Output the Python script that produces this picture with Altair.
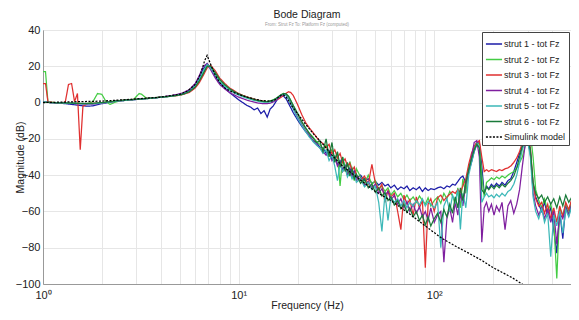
import altair as alt
import pandas as pd

FREQ = [
    1.0, 1.03, 1.06, 1.1, 1.15, 1.2, 1.25, 1.3, 1.35, 1.4,
    1.45, 1.5, 1.55, 1.6, 1.7, 1.8, 1.9, 2.0, 2.1, 2.2,
    2.35, 2.5, 2.7, 2.9, 3.1, 3.2, 3.4, 3.7, 4.0, 4.4,
    4.8, 5.2, 5.6, 6.0, 6.3, 6.6, 6.9, 7.2, 7.6, 8.0,
    8.5, 9.0, 9.5, 10.0, 10.5, 11.0, 11.5, 12.0, 12.5, 13.0,
    13.5, 14.0, 14.5, 15.0, 15.5, 16.0, 16.5, 17.0, 17.5, 18.0,
    18.5, 19.0, 20.0, 21.0, 22.0, 23.0, 24.0, 25.0, 26.0, 27.0,
    28.0, 29.0, 30.0, 31.0, 32.0, 33.0, 34.0, 35.0, 36.0, 37.0,
    38.0, 39.0, 40.0, 42.0, 44.0, 46.0, 48.0, 50.0, 52.0, 54.0,
    56.0, 58.0, 60.0, 62.5, 65.0, 67.5, 70.0, 72.5, 75.0, 78.0,
    81.0, 84.0, 87.0, 90.0, 93.0, 96.0, 100.0, 104.0, 108.0, 112.0,
    116.0, 120.0, 124.0, 128.0, 132.0, 136.0, 140.0, 145.0, 150.0, 155.0,
    160.0, 165.0, 170.0, 175.0, 180.0, 185.0, 190.0, 196.0, 202.0, 208.0,
    215.0, 222.0, 230.0, 238.0, 246.0, 255.0, 264.0, 273.0, 282.0, 291.0,
    300.0, 310.0, 320.0, 330.0, 342.0, 354.0, 366.0, 380.0, 394.0, 408.0,
    423.0, 438.0, 454.0, 470.0, 487.0, 505.0,
]

STRUT1 = [
    0.3, 0.2, 0.1, 0.0, -0.2, -0.3, -0.4, -0.6, -0.8, -1.0,
    -1.2, -1.4, -1.6, -1.8, -2.0, -1.8, -1.2, -0.6, -0.2, 0.2,
    0.7, 1.0, 1.3, 1.6, 1.9, 2.0, 2.3, 2.6, 3.0, 3.5,
    4.2, 5.0, 6.8, 10.0, 14.0, 18.5, 21.5, 19.0, 14.5, 11.0,
    8.0, 5.5, 3.5, 1.5, 0.0, -1.5, -2.5, -4.0, -3.0, -6.0,
    -4.5, -8.0, -3.5, -2.0, 0.5, 2.5, 4.0, 3.5, 2.0, -0.5,
    -3.0, -5.5, -9.5, -13.0, -16.0, -18.5, -21.0, -22.0, -24.5, -25.0,
    -28.0, -26.5, -31.0, -29.5, -34.0, -32.0, -37.5, -34.5, -38.0, -36.0,
    -40.0, -37.5, -41.5, -40.0, -43.0, -42.0, -44.5, -43.5, -45.5, -44.0,
    -46.0, -45.0, -47.0, -45.5, -48.0, -46.5, -47.5, -46.0, -48.5, -47.0,
    -48.0, -46.5, -49.0, -47.0, -48.5, -47.5, -48.0, -47.0, -46.5, -47.5,
    -46.0, -46.5, -45.0, -45.5, -43.5, -41.5, -40.5, -44.0, -38.0, -33.0,
    -27.0, -23.0, -22.0, -35.0, -50.0, -46.0, -47.5, -45.0, -46.5, -44.5,
    -46.0, -44.0, -45.5, -43.0, -42.0, -38.0, -33.0, -28.0, -24.0, -21.0,
    -20.0, -28.0, -45.0, -52.0, -56.0, -60.0, -55.0, -62.0, -58.0, -70.0,
    -83.0, -60.0, -75.0, -57.0, -62.0, -54.0,
]

STRUT2 = [
    17.0, 17.0, 0.3, 0.2, 0.0, 0.0, -0.1, -0.2, -0.2, -0.3,
    -0.3, -0.4, -0.5, -0.6, -0.5, 0.5, 5.0, 4.5, 0.5, -1.0,
    0.3, 1.0, 1.3, 1.6, 5.0, 4.5, 2.2, 2.6, 3.0, 3.4,
    3.8, 4.6, 6.0, 8.8, 12.0, 16.5, 20.5, 20.0, 16.0, 12.5,
    9.5, 7.5, 6.0, 4.8, 3.8, 3.0, 2.4, 1.8, 1.2, 0.8,
    0.5, 0.6, 0.9, 1.5, 2.2, 3.2, 4.3, 5.0, 4.8, 3.5,
    1.0, -1.5, -6.0, -10.5, -14.0, -17.0, -19.0, -21.5, -23.0, -26.0,
    -23.5, -28.0, -26.0, -31.0, -27.5, -46.0, -30.0, -35.5, -40.0, -32.5,
    -37.0, -43.0, -36.5, -41.0, -44.5, -40.0, -45.0, -43.0, -48.0, -46.0,
    -49.0, -47.0, -51.0, -48.5, -52.0, -50.0, -53.5, -51.0, -54.0, -52.0,
    -55.0, -51.5, -54.0, -56.0, -52.5, -57.0, -54.0, -52.0, -55.5, -50.0,
    -53.0, -49.0, -51.5, -56.0, -47.0, -58.0, -42.0, -50.0, -36.0, -30.0,
    -25.0, -22.0, -23.0, -40.0, -52.0, -44.0, -43.0, -41.5, -42.5, -41.0,
    -42.0, -40.5, -41.5, -40.0, -39.0, -38.0, -36.0, -33.0, -30.0, -24.0,
    -19.0, -17.0, -30.0, -48.0, -54.0, -58.0, -53.0, -60.0, -56.0, -65.0,
    -97.0, -58.0, -62.0, -56.0, -60.0, -54.0,
]

STRUT3 = [
    10.5, 10.5, 0.3, 0.2, 0.0, 0.0, -0.1, 0.3, 10.0, 10.5,
    0.5, 5.0, -26.0, -2.0, -0.5, -0.4, -0.3, -0.1, 0.1, 0.4,
    0.8, 1.1, 1.4, 1.7, 1.9, 2.0, 2.3, 2.6, 3.0, 3.4,
    3.8, 4.5, 5.6, 8.0, 11.0, 15.0, 19.0, 20.5, 17.5, 13.5,
    10.5, 8.0, 6.5, 5.0, 4.0, 3.2, 2.5, 1.9, 1.4, 1.0,
    0.7, 0.5, 0.6, 0.9, 1.4, 2.0, 3.0, 4.0, 5.2, 6.0,
    5.5, 4.0, -1.0, -6.5, -11.0, -14.0, -16.5, -19.0, -21.5, -22.5,
    -25.0, -23.0, -28.5, -26.0, -30.5, -28.0, -33.0, -31.0, -35.0, -33.5,
    -37.5, -35.5, -40.0, -43.0, -40.5, -45.0, -34.0, -44.5, -48.0, -45.0,
    -55.0, -48.5, -52.0, -50.0, -60.0, -70.0, -51.0, -56.0, -53.5, -62.0,
    -52.0, -58.0, -54.0, -91.0, -56.0, -53.0, -60.0, -52.5, -51.0, -54.0,
    -52.0, -50.5, -49.0, -50.0, -48.0, -49.5, -46.0, -42.0, -34.0, -28.0,
    -24.0, -22.0, -21.0, -30.0, -38.0, -37.0, -38.0, -37.0, -37.5, -38.0,
    -37.0, -37.5, -36.5, -36.0, -35.0, -33.0, -30.5, -27.0, -22.0, -17.0,
    -18.0, -25.0, -45.0, -53.0, -57.0, -55.0, -61.0, -56.0, -64.0, -58.0,
    -66.0, -57.0, -63.0, -55.0, -59.0, -53.0,
]

STRUT4 = [
    0.2, 0.1, 0.1, 0.0, -0.1, -0.1, -0.2, -0.3, -0.4, -0.5,
    -0.5, -0.6, -0.7, -0.8, -0.9, -0.8, -0.5, -0.3, 0.0, 0.3,
    0.7, 1.0, 1.3, 1.6, 1.8, 1.9, 2.2, 2.5, 3.0, 3.6,
    4.4, 5.4, 7.2, 10.5, 15.0, 20.0, 21.5, 18.0, 13.5, 10.0,
    7.5, 5.5, 4.2, 3.0, 2.2, 1.4, 0.8, 0.3, -0.2, -0.5,
    -0.6, -0.6, -0.3, 0.3, 1.2, 2.5, 3.8, 4.6, 4.0, 2.0,
    -0.5, -3.0, -8.0, -12.0, -15.5, -18.0, -21.0, -23.0, -25.0, -27.0,
    -29.0, -27.0, -32.0, -30.0, -35.0, -32.5, -38.0, -35.5, -40.0, -37.0,
    -41.0, -38.5, -43.0, -41.5, -45.5, -43.5, -47.0, -45.0, -50.0, -47.5,
    -51.0, -49.0, -54.0, -51.0, -56.0, -53.0, -58.0, -54.5, -60.0, -56.0,
    -61.0, -57.5, -63.0, -60.0, -65.0, -58.0, -66.0, -62.0, -60.0, -88.0,
    -64.0, -58.0, -66.0, -55.0, -62.0, -50.0, -57.0, -45.0, -38.0, -30.0,
    -22.0, -21.0, -30.0, -77.0, -58.0, -55.0, -60.0, -56.0, -62.0, -57.0,
    -60.0, -55.0, -70.0, -57.0, -54.0, -61.0, -56.0, -48.0, -35.0, -24.0,
    -20.0, -27.0, -50.0, -57.0, -62.0, -58.0, -64.0, -59.0, -66.0, -60.0,
    -78.0, -61.0, -64.0, -58.0, -62.0, -56.0,
]

STRUT5 = [
    0.3, 0.2, 0.1, 0.0, 0.0, -0.1, -0.2, -0.3, -0.4, -0.4,
    -0.5, -0.5, -0.6, -0.7, -0.7, -0.6, -0.4, -0.2, 0.0, 0.3,
    0.7, 1.0, 1.3, 1.6, 1.8, 1.9, 2.2, 2.5, 2.9, 3.3,
    3.9, 4.7, 6.2, 9.2, 13.0, 17.5, 21.0, 19.0, 15.0, 11.5,
    8.8, 6.8, 5.3, 4.1, 3.2, 2.4, 1.8, 1.2, 0.8, 0.4,
    0.2, 0.2, 0.4, 1.0, 1.9, 3.0, 4.2, 4.6, 3.8, 1.8,
    -0.8, -3.5, -8.5, -12.5, -16.0, -19.0, -21.5, -23.5, -25.0, -28.0,
    -26.0, -32.0, -29.0, -35.0, -43.0, -34.0, -38.0, -36.0, -41.0, -38.5,
    -42.0, -39.5, -44.0, -42.0, -46.5, -44.0, -48.0, -46.0, -55.0, -71.0,
    -50.0, -65.0, -52.0, -55.0, -53.0, -57.0, -54.0, -58.0, -55.0, -57.0,
    -54.0, -56.5, -53.0, -57.0, -54.5, -56.0, -58.0, -55.0, -80.0, -57.0,
    -53.0, -60.0, -51.0, -55.0, -48.0, -70.0, -50.0, -58.0, -40.0, -33.0,
    -27.0, -22.5, -24.0, -55.0, -52.0, -50.0, -52.0, -51.0, -52.5, -50.5,
    -52.0, -50.0, -51.5, -49.0, -48.0, -45.0, -40.0, -33.0, -26.0, -22.0,
    -21.0, -30.0, -52.0, -60.0, -64.0, -58.0, -66.0, -61.0, -85.0, -62.0,
    -68.0, -60.0, -72.0, -59.0, -63.0, -57.0,
]

STRUT6 = [
    0.2, 0.1, 0.1, 0.0, -0.1, -0.1, -0.2, -0.2, -0.3, -0.3,
    -0.4, -0.4, -0.5, -0.5, -0.5, -0.4, -0.2, 0.0, 0.2, 0.5,
    0.9, 1.2, 1.5, 1.7, 1.9, 2.0, 2.3, 2.6, 3.0, 3.4,
    3.9, 4.6, 6.0, 8.6, 12.0, 16.0, 20.0, 20.0, 16.5, 12.8,
    9.8, 7.6, 6.0, 4.8, 3.8, 3.0, 2.3, 1.7, 1.2, 0.8,
    0.5, 0.5, 0.8, 1.4, 2.2, 3.3, 4.4, 5.0, 4.8, 3.4,
    1.0, -1.5, -6.0, -10.5, -14.0, -17.0, -19.5, -22.0, -21.0, -27.0,
    -20.0, -30.0, -22.0, -33.0, -27.0, -35.5, -30.0, -38.0, -33.0, -40.5,
    -36.5, -42.0, -39.5, -44.5, -42.0, -47.0, -45.0, -49.5, -47.0, -51.5,
    -49.5, -54.0, -52.0, -56.5, -54.0, -58.5, -56.0, -60.5, -58.0, -63.0,
    -60.0, -65.0, -62.0, -67.5, -63.0, -68.0, -64.0, -61.0, -66.0, -59.0,
    -63.0, -56.0, -61.0, -52.0, -58.0, -47.0, -54.0, -44.0, -37.0, -31.0,
    -26.0, -23.0, -25.0, -48.0, -50.0, -46.5, -48.0, -46.0, -47.5, -45.5,
    -47.0, -45.0, -46.5, -44.5, -43.0, -40.5, -36.0, -30.0, -24.0, -20.0,
    -19.0, -26.0, -44.0, -50.0, -53.0, -51.0, -55.0, -52.0, -56.0, -53.0,
    -58.0, -52.0, -57.0, -51.0, -55.0, -52.0,
]

MODEL_FREQ = [1, 2, 3, 4, 5, 5.5, 6, 6.4, 6.7, 6.9, 7.2, 7.6, 8, 8.5, 9,
              10, 11, 12, 13, 14, 15, 15.5, 16, 16.5, 17, 17.5, 18, 19, 20,
              21, 22, 23, 24, 26, 28, 30, 34, 40, 50, 60, 74, 85, 98, 110,
              130, 150, 175, 200, 250, 281, 310]
MODEL_DB = [0, 0.8, 2.0, 3.0, 4.5, 6.5, 10, 16, 23, 26, 21, 15, 11, 8, 6.5,
            4.5, 3, 2, 1.2, 0.8, 1.0, 1.8, 3.0, 4.0, 4.2, 3.0, 1.0, -3.0, -6.0,
            -9.0, -12.0, -14.5, -17, -21, -25, -29, -35, -41, -49, -54, -61,
            -66, -71, -75, -79.5, -83, -87, -91, -96.5, -100, -103]

NAMES = ["strut 1 - tot Fz", "strut 2 - tot Fz", "strut 3 - tot Fz",
         "strut 4 - tot Fz", "strut 5 - tot Fz", "strut 6 - tot Fz",
         "Simulink model"]
COLORS = ["#1c1ca8", "#44cc44", "#e03030", "#7f1f9f", "#3cb8b8", "#1a7a3a",
          "#000000"]
DASHES = [[1, 0]] * 6 + [[2, 1.5]]

rows = []
for name, vals in zip(NAMES[:6], [STRUT1, STRUT2, STRUT3, STRUT4, STRUT5, STRUT6]):
    n = min(len(FREQ), len(vals))
    if len(vals) != len(FREQ):
        print("length mismatch", name, len(vals), len(FREQ))
    for i in range(n):
        rows.append({"f": FREQ[i], "dB": vals[i], "series": name, "i": i})
for i, (f, v) in enumerate(zip(MODEL_FREQ, MODEL_DB)):
    rows.append({"f": f, "dB": v, "series": NAMES[6], "i": i})
df = pd.DataFrame(rows)

grid_vals = [1, 2, 3, 4, 5, 6, 7, 8, 9, 10, 20, 30, 40, 50, 60, 70, 80, 90,
             100, 200, 300, 400, 500]

FONT = "Liberation Sans"
H = 254

chart = alt.Chart(df).mark_line(clip=True, strokeWidth=1.25).encode(
    x=alt.X("f:Q",
            scale=alt.Scale(type="log", domain=[1, 500], nice=False),
            axis=alt.Axis(values=grid_vals, title="Frequency  (Hz)",
                          labelExpr="datum.value == 1 ? '10⁰' : datum.value == 10 ? '10¹' : datum.value == 100 ? '10²' : ''",
                          labelFontSize=11, labelPadding=5, titleFontSize=10.5,
                          titlePadding=0, ticks=False, labelFlush=False)),
    y=alt.Y("dB:Q",
            scale=alt.Scale(domain=[-100, 40], nice=False),
            axis=alt.Axis(values=[-100, -80, -60, -40, -20, 0, 20, 40],
                          title="Magnitude (dB)", labelFontSize=11,
                          labelPadding=3, titleFontSize=10.5, ticks=False,
                          titleX=-23, titleY=H / 2, titleAngle=-90,
                          titleBaseline="middle", titleAlign="center")),
    color=alt.Color("series:N", sort=NAMES,
                    scale=alt.Scale(domain=NAMES, range=COLORS),
                    legend=alt.Legend(orient="top-right", title=None,
                                      symbolType="stroke", symbolSize=260,
                                      symbolStrokeWidth=1.5, labelFontSize=9,
                                      fillColor="white", strokeColor="#444",
                                      padding=3, rowPadding=1.5, offset=2,
                                      labelOffset=1, cornerRadius=0)),
    strokeDash=alt.StrokeDash("series:N", sort=NAMES,
                              scale=alt.Scale(domain=NAMES, range=DASHES)),
    order="i:Q",
).properties(
    width=528,
    height=H,
    title=alt.TitleParams("Bode Diagram",
                          subtitle="From: Strut Fz  To: Platform Fz (computed)",
                          fontSize=10.5, fontWeight="normal", color="#222",
                          subtitleFontSize=4.5, subtitleColor="#999",
                          subtitlePadding=1, offset=0, dy=2, anchor="middle",
                          font=FONT, subtitleFont=FONT),
    autosize=alt.AutoSizeParams(type="none"),
    padding={"left": 35, "top": 22, "right": 0, "bottom": 28},
).configure(
    font=FONT,
).configure_axis(
    labelFont=FONT, titleFont=FONT, labelColor="#222", titleColor="#222",
    titleFontWeight="normal", gridColor="#e6e6e6", domainColor="#999",
).configure_legend(
    labelFont=FONT, labelColor="#222",
).configure_view(
    stroke="#999",
)

chart.save("out.html", embed_options={"renderer": "svg", "actions": False})
